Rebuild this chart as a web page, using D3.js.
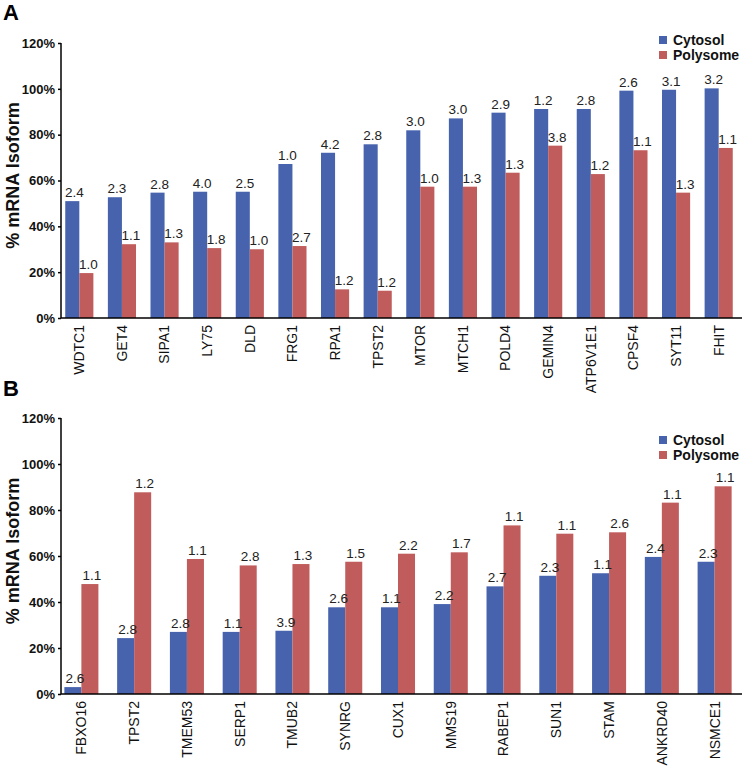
<!DOCTYPE html>
<html>
<head>
<meta charset="utf-8">
<script src="https://cdn.jsdelivr.net/npm/d3@7"></script>
<style>
  body { margin: 0; background: #fff; }
  text { font-family: Arial, "Liberation Sans", sans-serif; }
</style>
</head>
<body>
<div id="chart"></div>
<script>
// panel A data
const genesA = ["WDTC1", "GET4", "SIPA1", "LY75", "DLD", "FRG1", "RPA1", "TPST2",
    "MTOR", "MTCH1", "POLD4", "GEMIN4", "ATP6V1E1", "CPSF4", "SYT11", "FHIT"]
const cytosolA = [51, 52.7, 54.7, 55.1, 55.1, 67.2, 72.1, 75.8, 81.9, 87.1, 89.6, 91.2, 91.2, 99.2, 99.6, 100.2]
const polysomeA = [19.6, 32.2, 33.0, 30.5, 30.0, 31.4, 12.5, 11.9, 57.3, 57.3, 63.4, 75.2, 62.8, 73.2, 54.7, 74.2]
const cytoLabA = ["2.4", "2.3", "2.8", "4.0", "2.5", "1.0", "4.2", "2.8", "3.0", "3.0", "2.9", "1.2", "2.8", "2.6", "3.1", "3.2"]
const polyLabA = ["1.0", "1.1", "1.3", "1.8", "1.0", "2.7", "1.2", "1.2", "1.0", "1.3", "1.3", "3.8", "1.2", "1.1", "1.3", "1.1"]

// panel B data
const genesB = ["FBXO16", "TPST2", "TMEM53", "SERP1", "TMUB2", "SYNRG", "CUX1",
    "MMS19", "RABEP1", "SUN1", "STAM", "ANKRD40", "NSMCE1"]
const cytosolB = [3.0, 24.3, 27.0, 27.0, 27.5, 37.7, 37.7, 39.1, 46.8, 51.4, 52.5, 59.6, 57.5]
const polysomeB = [47.8, 87.7, 58.7, 55.9, 56.5, 57.5, 61.0, 61.6, 73.3, 69.7, 70.3, 83.2, 90.3]
const cytoLabB = ["2.6", "2.8", "2.8", "1.1", "3.9", "2.6", "1.1", "2.2", "2.7", "2.3", "1.1", "2.4", "2.3"]
const polyLabB = ["1.1", "1.2", "1.1", "2.8", "1.3", "1.5", "2.2", "1.7", "1.1", "1.1", "2.6", "1.1", "1.1"]

const series = ["Cytosol", "Polysome"]
const yTicks = [0, 20, 40, 60, 80, 100, 120]
const colors = { "Cytosol": "#4763ad", "Polysome": "#c05c5b" }

const svg = d3.select("#chart").append("svg")
    .attr("width", 746)
    .attr("height", 771)

svg.append("rect").attr("width", 746).attr("height", 771).attr("fill", "#fff")

function drawPanel(opt) {
    const g = svg.append("g")

    const y = d3.scaleLinear()
        .domain([0, 120])
        .range([opt.y0, opt.y1])

    const x0 = d3.scaleBand()
        .domain(opt.genes)
        .range(opt.xRange)
        .paddingInner(opt.pad)
        .paddingOuter(opt.pad / 2)

    const x1 = d3.scaleBand()
        .domain(series)
        .range([0, x0.bandwidth()])

    const rows = opt.genes.map(function (d, i) {
        return [
            { gene: d, s: "Cytosol", v: opt.cyto[i], lab: opt.cytoLab[i] },
            { gene: d, s: "Polysome", v: opt.poly[i], lab: opt.polyLab[i] }
        ]
    }).flat()

    // bars
    g.selectAll(".bar")
        .data(rows)
        .enter().append("rect")
        .attr("x", function (d) { return x0(d.gene) + x1(d.s) })
        .attr("y", function (d) { return y(d.v) })
        .attr("width", x1.bandwidth())
        .attr("height", function (d) { return y(0) - y(d.v) })
        .attr("fill", function (d) { return colors[d.s] })

    // value labels
    g.selectAll(".val")
        .data(rows)
        .enter().append("text")
        .attr("x", function (d) { return x0(d.gene) + x1(d.s) + x1.bandwidth() / 2 + 2 })
        .attr("y", function (d) { return y(d.v) - 4 })
        .attr("text-anchor", "middle")
        .attr("font-size", "13.5px")
        .attr("fill", "#222")
        .text(function (d) { return d.lab })

    // y axis
    const yAxis = g.append("g")
        .attr("transform", "translate(" + opt.axisX + ",0)")
        .call(d3.axisLeft(y).tickValues(yTicks).tickSize(3).tickFormat(function (d) { return d + "%" }))
    yAxis.select(".domain").attr("stroke", "#000").attr("stroke-width", 1.5)
        .attr("d", "M0," + opt.y1 + "V" + opt.y0)
    yAxis.selectAll(".tick line").attr("stroke", "#000").attr("stroke-width", 1.5)
    yAxis.selectAll(".tick text")
        .attr("font-size", "13px")
        .attr("font-weight", "bold")
        .attr("font-family", "Arial, 'Liberation Sans', sans-serif")
        .attr("fill", "#111")
        .attr("x", -6)

    // x axis
    const xAxis = g.append("g")
        .attr("transform", "translate(0," + opt.y0 + ")")
        .call(d3.axisBottom(x0).tickSize(0))
    xAxis.select(".domain").attr("stroke", "#000").attr("stroke-width", 1.5)
        .attr("d", "M" + opt.axisX + ",0H" + opt.xEnd)
    xAxis.selectAll(".tick text")
        .attr("font-size", "14px")
        .attr("font-family", "Arial, 'Liberation Sans', sans-serif")
        .attr("fill", "#111")
        .attr("transform", "rotate(-90)")
        .attr("text-anchor", "end")
        .attr("x", -7)
        .attr("y", 0)
        .attr("dy", "0.35em")

    // y title
    g.append("text")
        .attr("transform", "translate(" + 19 + "," + ((opt.y0 + opt.y1) / 2 - 5) + ") rotate(-90)")
        .attr("text-anchor", "middle")
        .attr("font-size", "18px")
        .attr("font-weight", "bold")
        .attr("fill", "#111")
        .text("% mRNA Isoform")

    // panel letter
    g.append("text")
        .attr("x", 3)
        .attr("y", opt.letterY)
        .attr("font-size", "22px")
        .attr("font-weight", "bold")
        .attr("fill", "#000")
        .text(opt.letter)

    // legend
    const leg = g.selectAll(".leg")
        .data(series)
        .enter().append("g")
        .attr("transform", function (d, i) { return "translate(659," + (opt.legY + i * 15) + ")" })
    leg.append("rect")
        .attr("width", 8).attr("height", 8)
        .attr("fill", function (d) { return colors[d] })
    leg.append("text")
        .attr("x", 14).attr("y", 4)
        .attr("dy", "0.35em")
        .attr("font-size", "14px")
        .attr("font-weight", "bold")
        .attr("fill", "#111")
        .text(function (d) { return d })
}

drawPanel({
    genes: genesA, cyto: cytosolA, poly: polysomeA, cytoLab: cytoLabA, polyLab: polyLabA,
    y0: 318, y1: 43, xRange: [58, 740], pad: 0.34, axisX: 61, xEnd: 742,
    letter: "A", letterY: 20, legY: 36
})

drawPanel({
    genes: genesB, cyto: cytosolB, poly: polysomeB, cytoLab: cytoLabB, polyLab: polyLabB,
    y0: 694, y1: 418, xRange: [55, 741], pad: 0.355, axisX: 61, xEnd: 742,
    letter: "B", letterY: 396, legY: 436
})
</script>
</body>
</html>
